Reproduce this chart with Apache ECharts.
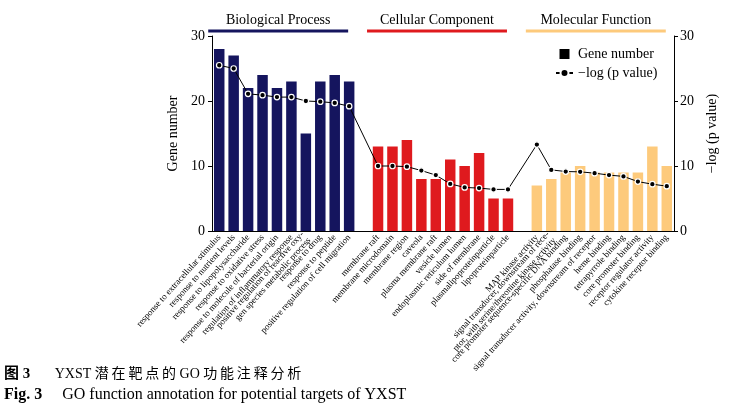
<!DOCTYPE html>
<html><head><meta charset="utf-8">
<script src="https://cdn.jsdelivr.net/npm/echarts@6/dist/echarts.min.js"></script>
<style>html,body{margin:0;padding:0;background:#fff}#c{width:739px;height:411px}</style>
</head><body><div id="c"></div>
<script>
const bpTerms = ['response to extracellular stimulus','response to nutrient levels','response to lipopolysaccharide','response to oxidative stress','response to molecule of bacterial origin','regulation of inflammatory response','positive regulation of reactive oxy-\ngen species metabolic process','response to drug','response to peptide','positive regulation of cell migration'];
const ccTerms = ['membrane raft','membrane microdomain','membrane region','caveola','plasma membrane raft','vesicle lumen','endoplasmic reticulum lumen','side of membrane','plasmalipoproteinparticle','lipoproteinparticle'];
const mfTerms = ['MAP kinase activity','signal transducer, downstream of rece-\nptor, with serine/threonine kinase activity','core promoter sequence-specific DNA binding','phosphatase binding','signal transducer activity, downstream of receptor','heme binding','tetrapyrrole binding','core promoter binding','receptor regulator activity','cytokine receptor binding'];
const bpGenes = [28,27,22,24,22,23,15,23,24,23];
const ccGenes = [13,13,14,8,8,11,10,12,5,5];
const mfGenes = [7,8,9,10,9,9,9,9,13,10];
const bpLogP = [25.5,25.0,21.1,20.9,20.6,20.6,20.0,19.9,19.7,19.2];
const ccLogP = [10.0,10.0,9.9,9.3,8.6,7.25,6.7,6.6,6.4,6.4];
const mfLogP = [13.3,9.4,9.15,9.1,8.9,8.6,8.4,7.6,7.2,6.9];
const groupNames = ['Biological Process','Cellular Component','Molecular Function'];
const groupColors = ['#15155e','#df1a1e','#fdca7c'];
const captionCn = ['图 3', 'YXST 潜在靶点的 GO 功能注释分析'];
const captionEn = ['Fig. 3', 'GO function annotation for potential targets of YXST'];

const categories = [...bpTerms, '', ...ccTerms, '', ...mfTerms];
const groupsData = [bpGenes, ccGenes, mfGenes];
const barData = [];
groupsData.forEach((arr, gi) => {
  arr.forEach(v => barData.push({value: v, itemStyle: {color: groupColors[gi]}}));
  if (gi < 2) barData.push('-');
});
const lineData = [...bpLogP, '-', ...ccLogP, '-', ...mfLogP];

const serif = "'Liberation Serif','Times New Roman',serif";
const serifCjk = "'Liberation Serif','Noto Sans CJK SC',serif";
const chart = echarts.init(document.getElementById('c'));
chart.setOption({
  animation: false,
  grid: {left: 212, right: 65, top: 36, bottom: 180},
  legend: {
    orient: 'vertical', left: 550, top: 42, itemGap: 5, itemWidth: 17, itemHeight: 10,
    textStyle: {fontFamily: serif, fontSize: 14, color: '#000'},
    data: [
      {name: 'Gene number', icon: 'path://M0,0h10v10h-10z', itemStyle: {color: '#000'}},
      {name: '\u2212log (p value)'}
    ]
  },
  xAxis: {
    type: 'category', data: categories,
    axisLine: {lineStyle: {color: '#000', width: 1}},
    axisTick: {show: false},
    axisLabel: {interval: 0, rotate: 48, fontFamily: serif, fontSize: 9, color: '#000', margin: 5, lineHeight: 9}
  },
  yAxis: [
    {type: 'value', min: 0, max: 30, interval: 10, name: 'Gene number', nameLocation: 'middle', nameGap: 25,
     nameTextStyle: {fontFamily: serif, fontSize: 14, color: '#000'},
     axisLine: {show: true, lineStyle: {color: '#000'}}, axisTick: {show: true, length: 4},
     axisLabel: {fontFamily: serif, fontSize: 14, color: '#000', margin: 7}, splitLine: {show: false}},
    {type: 'value', min: 0, max: 30, interval: 10, name: '\u2212log (p value)', nameLocation: 'middle', nameGap: 27,
     nameRotate: 90,
     nameTextStyle: {fontFamily: serif, fontSize: 14, color: '#000'},
     axisLine: {show: true, lineStyle: {color: '#000'}}, axisTick: {show: true, length: 4},
     axisLabel: {fontFamily: serif, fontSize: 14, color: '#000', margin: 6}, splitLine: {show: false}}
  ],
  series: [
    {name: 'Gene number', type: 'bar', data: barData, barWidth: 10.5, itemStyle: {color: '#000'}},
    {name: '\u2212log (p value)', type: 'line', yAxisIndex: 1, data: lineData, connectNulls: true,
     symbol: 'circle', symbolSize: 5.5, lineStyle: {color: '#000', width: 1},
     itemStyle: {color: '#000', borderColor: '#fff', borderWidth: 1.2}, z: 5}
  ]
});

// Group headers over the bars
const starts = [0, bpTerms.length + 1, bpTerms.length + ccTerms.length + 2];
const counts = [bpTerms.length, ccTerms.length, mfTerms.length];
const graphics = [];
starts.forEach((s, gi) => {
  const x0 = chart.convertToPixel({xAxisIndex: 0}, s) - 11;
  const x1 = chart.convertToPixel({xAxisIndex: 0}, s + counts[gi] - 1) - 1;
  graphics.push({type: 'line', shape: {x1: x0, y1: 31, x2: x1, y2: 31}, style: {stroke: groupColors[gi], lineWidth: 3}});
  graphics.push({type: 'text', x: (x0 + x1) / 2, y: 20, style: {text: groupNames[gi], font: "14px " + serif, fill: '#000', textAlign: 'center', textVerticalAlign: 'middle'}});
});
// spread CJK characters a little, as in the printed caption
const spaced = captionCn[1].replace(/([\u4e00-\u9fff])(?=[\u4e00-\u9fff])/g, '$1\u2009');
graphics.push({type: 'text', x: 4, y: 374, style: {textVerticalAlign: 'middle', rich: {b: {fontWeight: 'bold', fontFamily: serifCjk, fontSize: 15}, n: {fontFamily: serifCjk, fontSize: 14}}, text: '{b|' + captionCn[0] + '}{n|       ' + spaced + '}', fill: '#000'}});
graphics.push({type: 'text', x: 4, y: 395, style: {textVerticalAlign: 'middle', rich: {b: {fontWeight: 'bold', fontFamily: serif, fontSize: 16}, n: {fontFamily: serif, fontSize: 16}}, text: '{b|' + captionEn[0] + '}{n|     ' + captionEn[1] + '}', fill: '#000'}});
chart.setOption({graphic: graphics});
</script></body></html>
